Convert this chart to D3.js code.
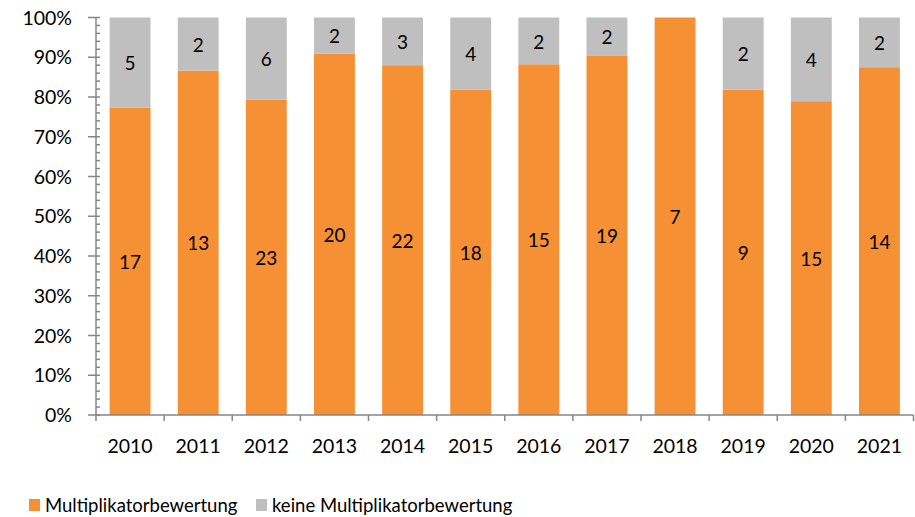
<!DOCTYPE html>
<html>
<head>
<meta charset="utf-8">
<script src="https://cdn.jsdelivr.net/npm/d3@7"></script>
<style>
  body { margin: 0; background: #fff; }
  svg text { font-family: Lato, "Open Sans", sans-serif; fill: #000; }
</style>
</head>
<body>
<div id="chart"></div>
<script>
var years = ["2010","2011","2012","2013","2014","2015","2016","2017","2018","2019","2020","2021"];
var multi = [17, 13, 23, 20, 22, 18, 15, 19, 7, 9, 15, 14];
var keine = [5, 2, 6, 2, 3, 4, 2, 2, 0, 2, 4, 2];
var yTicks = [0, 0.1, 0.2, 0.3, 0.4, 0.5, 0.6, 0.7, 0.8, 0.9, 1];
var seriesNames = ["Multiplikatorbewertung", "keine Multiplikatorbewertung"];

var width = 915, height = 517;
var colors = ["#F59134", "#BFBFBF"];
var axisColor = "#868686";

var svg = d3.select("#chart").append("svg")
    .attr("width", width)
    .attr("height", height);

var x = d3.scaleBand().domain(years).range([96, 913.5]).paddingInner(0.4).paddingOuter(0.2);
var y = d3.scaleLinear().domain([0, 1]).range([415, 17.5]);

// rows for stacking
var rows = years.map(function(yr, i) {
  var tot = multi[i] + keine[i];
  return { year: yr, m: multi[i], k: keine[i], mp: multi[i] / tot, kp: keine[i] / tot };
});

var g = svg.append("g");

rows.forEach(function(d) {
  var bx = x(d.year), bw = x.bandwidth();
  // orange part
  g.append("rect")
    .attr("x", bx).attr("width", bw)
    .attr("y", y(d.mp)).attr("height", y(0) - y(d.mp))
    .attr("fill", colors[0]);
  g.append("text")
    .attr("x", bx + bw / 2)
    .attr("y", (y(0) + y(d.mp)) / 2 + 1)
    .attr("dy", "0.35em")
    .attr("text-anchor", "middle")
    .style("font-size", "19px")
    .text(d.m);
  if (d.k > 0) {
    g.append("rect")
      .attr("x", bx).attr("width", bw)
      .attr("y", y(1)).attr("height", y(d.mp) - y(1))
      .attr("fill", colors[1]);
    g.append("text")
      .attr("x", bx + bw / 2)
      .attr("y", (y(1) + y(d.mp)) / 2 + 1)
      .attr("dy", "0.35em")
      .attr("text-anchor", "middle")
      .style("font-size", "19px")
      .text(d.k);
  }
});

// y axis with minor ticks
var yAxis = svg.append("g");
yAxis.append("line")
  .attr("x1", 96).attr("x2", 96)
  .attr("y1", y(0)).attr("y2", y(1))
  .attr("stroke", axisColor).attr("stroke-width", 1.5);
d3.range(0, 51).forEach(function(i) {
  var v = i / 50;
  var major = i % 5 == 0;
  yAxis.append("line")
    .attr("x1", major ? 88 : 96).attr("x2", 100)
    .attr("y1", y(v)).attr("y2", y(v))
    .attr("stroke", axisColor).attr("stroke-width", 1.5);
});
yAxis.selectAll("text.ylab")
  .data(yTicks)
  .enter().append("text")
    .attr("class", "ylab")
    .attr("x", 72)
    .attr("y", function(d) { return y(d); })
    .attr("dy", "0.36em")
    .attr("text-anchor", "end")
    .style("font-size", "19.5px")
    .text(function(d) { return d3.format(".0%")(d); });

// x axis
var xAxis = svg.append("g");
xAxis.append("line")
  .attr("x1", 96).attr("x2", 913.5)
  .attr("y1", y(0)).attr("y2", y(0))
  .attr("stroke", axisColor).attr("stroke-width", 1.5);
d3.range(0, years.length + 1).forEach(function(i) {
  var xx = 96 + i * (913.5 - 96) / years.length;
  xAxis.append("line")
    .attr("x1", xx).attr("x2", xx)
    .attr("y1", y(0)).attr("y2", y(0) + 6)
    .attr("stroke", axisColor).attr("stroke-width", 1.5);
});
xAxis.selectAll("text.xlab")
  .data(years)
  .enter().append("text")
    .attr("class", "xlab")
    .attr("x", function(d) { return x(d) + x.bandwidth() / 2; })
    .attr("y", 453)
    .attr("text-anchor", "middle")
    .style("font-size", "19.5px")
    .text(function(d) { return d; });

// legend
var legend = svg.append("g");
var lx = [29, 256];
seriesNames.forEach(function(name, i) {
  legend.append("rect")
    .attr("x", lx[i]).attr("y", 499)
    .attr("width", 11).attr("height", 12)
    .attr("fill", colors[i]);
  legend.append("text")
    .attr("x", lx[i] + 16)
    .attr("y", 512)
    .style("font-size", "18.5px")
    .text(name);
});
</script>
</body>
</html>
